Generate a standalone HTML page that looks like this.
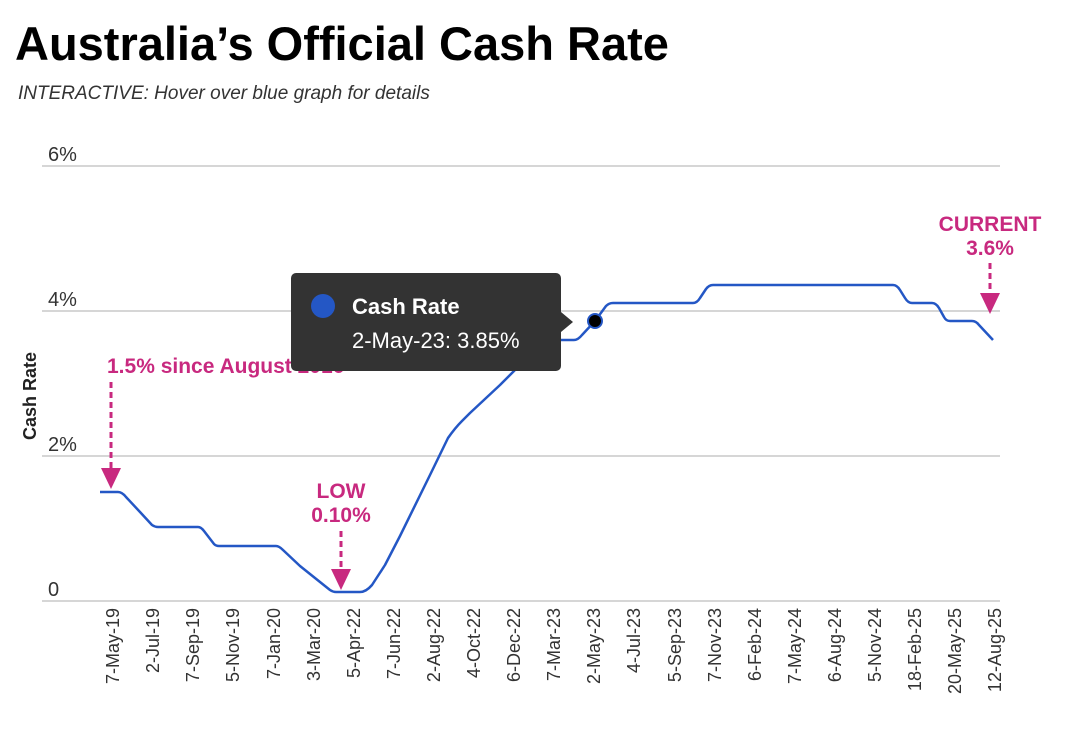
<!DOCTYPE html>
<html><head><meta charset="utf-8"><style>
body{margin:0;background:#fff;width:1080px;height:740px;overflow:hidden;font-family:"Liberation Sans",Arial,sans-serif}
</style></head><body>
<svg width="1080" height="740" xmlns="http://www.w3.org/2000/svg" font-family="Liberation Sans, Arial, sans-serif">
<text x="15" y="60" font-size="47" font-weight="bold" fill="#000">Australia’s Official Cash Rate</text>
<text x="18" y="99" font-size="19" font-style="italic" fill="#333">INTERACTIVE: Hover over blue graph for details</text>
<g stroke="#d6d6d6" stroke-width="2">
<line x1="42" y1="166" x2="1000" y2="166"/>
<line x1="42" y1="311" x2="1000" y2="311"/>
<line x1="42" y1="456" x2="1000" y2="456"/>
<line x1="42" y1="601" x2="1000" y2="601"/>
</g>
<g font-size="20" fill="#333">
<text x="48" y="161">6%</text>
<text x="48" y="306">4%</text>
<text x="48" y="451">2%</text>
<text x="48" y="596">0</text>
</g>
<text transform="translate(36,396) rotate(-90)" font-size="18" font-weight="bold" text-anchor="middle" fill="#222">Cash Rate</text>
<g font-size="18" fill="#333" text-anchor="end">
<text transform="translate(119,608) rotate(-90)">7-May-19</text>
<text transform="translate(159,608) rotate(-90)">2-Jul-19</text>
<text transform="translate(199,608) rotate(-90)">7-Sep-19</text>
<text transform="translate(239,608) rotate(-90)">5-Nov-19</text>
<text transform="translate(280,608) rotate(-90)">7-Jan-20</text>
<text transform="translate(320,608) rotate(-90)">3-Mar-20</text>
<text transform="translate(360,608) rotate(-90)">5-Apr-22</text>
<text transform="translate(400,608) rotate(-90)">7-Jun-22</text>
<text transform="translate(440,608) rotate(-90)">2-Aug-22</text>
<text transform="translate(480,608) rotate(-90)">4-Oct-22</text>
<text transform="translate(520,608) rotate(-90)">6-Dec-22</text>
<text transform="translate(560,608) rotate(-90)">7-Mar-23</text>
<text transform="translate(600,608) rotate(-90)">2-May-23</text>
<text transform="translate(640,608) rotate(-90)">4-Jul-23</text>
<text transform="translate(681,608) rotate(-90)">5-Sep-23</text>
<text transform="translate(721,608) rotate(-90)">7-Nov-23</text>
<text transform="translate(761,608) rotate(-90)">6-Feb-24</text>
<text transform="translate(801,608) rotate(-90)">7-May-24</text>
<text transform="translate(841,608) rotate(-90)">6-Aug-24</text>
<text transform="translate(881,608) rotate(-90)">5-Nov-24</text>
<text transform="translate(921,608) rotate(-90)">18-Feb-25</text>
<text transform="translate(961,608) rotate(-90)">20-May-25</text>
<text transform="translate(1001,608) rotate(-90)">12-Aug-25</text>
</g>
<path fill="none" stroke="#2457c5" stroke-width="2.5" stroke-linejoin="round" d="M100,492 L118,492 Q122,492 126,497 L140,512 L152,525 Q155,527 158,527 L198,527 Q201,527 204,531 L214,544 Q216,546 219,546 L276,546 Q279,546 283,550 L300,566 L320,582 L330,590 Q333,592 336,592 L360,592 Q366,592 372,585 L385,565 L400,536 L430,475 L448,438 Q455,428 462,421 L470,413 L500,385 L525,360 L556,340 L574,340 Q578,340 582,335 L595,321 L606,306 Q609,303 613,303 L693,303 Q697,303 700,298 L706,289 Q709,285 713,285 L893,285 Q897,285 900,290 L905,298 Q908,303 912,303 L932,303 Q936,303 939,308 L944,317 Q946,321 950,321 L972,321 Q976,321 979,325 L993,340"/>
<g fill="#c8297f" font-weight="bold" font-size="21">
<text x="107" y="373">1.5% since August 2016</text>
<text x="341" y="498" text-anchor="middle">LOW</text>
<text x="341" y="522" text-anchor="middle">0.10%</text>
<text x="990" y="231" text-anchor="middle">CURRENT</text>
<text x="990" y="255" text-anchor="middle">3.6%</text>
</g>
<g stroke="#c8297f" stroke-width="3" stroke-dasharray="6,4">
<line x1="111" y1="382" x2="111" y2="470"/>
<line x1="341" y1="531" x2="341" y2="570"/>
<line x1="990" y1="263" x2="990" y2="295"/>
</g>
<g fill="#c8297f">
<polygon points="101,468 121,468 111,489"/>
<polygon points="331,569 351,569 341,590"/>
<polygon points="980,293 1000,293 990,314"/>
</g>
<rect x="291" y="273" width="270" height="98" rx="5" fill="#333"/>
<polygon points="561,312 573,322 561,332" fill="#333"/>
<circle cx="323" cy="306" r="12" fill="#2457c5"/>
<text x="352" y="314" font-size="22" font-weight="bold" fill="#fff">Cash Rate</text>
<text x="352" y="348" font-size="22" fill="#fff">2-May-23: 3.85%</text>
<circle cx="595" cy="321" r="7" fill="#000" stroke="#2457c5" stroke-width="2"/>
</svg>
</body></html>
